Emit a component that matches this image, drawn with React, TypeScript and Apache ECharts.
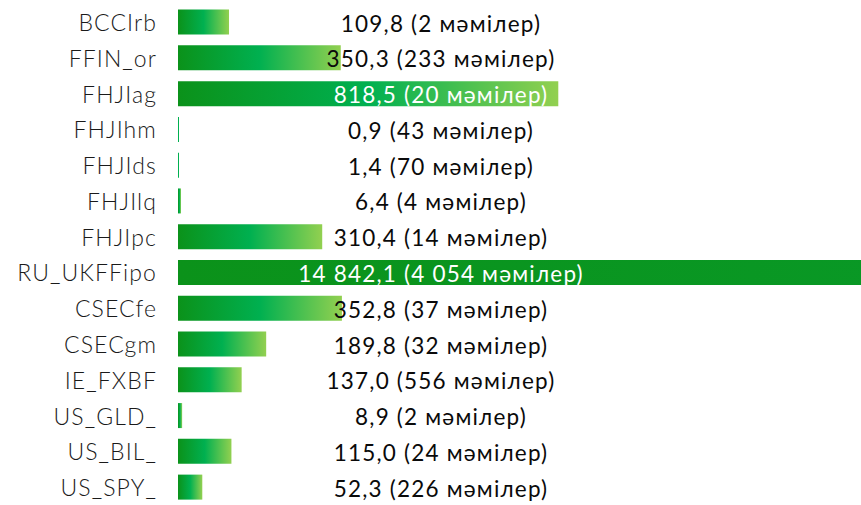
import React, { useEffect, useRef } from "react";
import * as echarts from "echarts";

const categories = [
  "BCCIrb",
  "FFIN_or",
  "FHJIag",
  "FHJIhm",
  "FHJIds",
  "FHJIlq",
  "FHJIpc",
  "RU_UKFFipo",
  "CSECfe",
  "CSECgm",
  "IE_FXBF",
  "US_GLD_",
  "US_BIL_",
  "US_SPY_",
];
const values = [109.8, 350.3, 818.5, 0.9, 1.4, 6.4, 310.4, 14842.1, 352.8, 189.8, 137.0, 8.9, 115.0, 52.3];
const deals = [2, 233, 20, 43, 70, 4, 14, 4054, 37, 32, 556, 2, 24, 226];
const dealWord = "мәмілер";

function fmt(n: number, decimals: number): string {
  const s = n.toFixed(decimals);
  const [i, d] = s.split(".");
  const ii = i.replace(/\B(?=(\d{3})+(?!\d))/g, " ");
  return d ? ii + "," + d : ii;
}

const css = `
.kzchart text[text-anchor="middle"] { letter-spacing: 1.2px; }
.kzchart text[text-anchor="end"] { letter-spacing: 1.1px; }
`;

export default function App() {
  const ref = useRef<HTMLDivElement>(null);
  useEffect(() => {
    if (!ref.current) return;
    const chart = echarts.init(ref.current, undefined, { renderer: "svg" });
    const xMax = 1470;
    const insideThreshold = 500;
    chart.setOption({
      animation: false,
      grid: { left: 178, top: 4.2, width: 683, height: 507, containLabel: false },
      xAxis: { type: "value", min: 0, max: xMax, show: false },
      yAxis: {
        type: "category",
        inverse: true,
        data: categories,
        axisLine: { show: false },
        axisTick: { show: false },
        splitLine: { show: false },
        axisLabel: {
          margin: 21,
          color: "#1a1a1a",
          fontFamily: "Lato",
          fontWeight: 300,
          fontSize: 23,
        },
      },
      series: [
        {
          type: "bar",
          clip: false,
          barWidth: 25,
          barMinHeight: 1,
          data: values.map((v) => ({
            value: v,
            label: { color: v > insideThreshold ? "#ffffff" : "#0a0a0a" },
          })),
          itemStyle: {
            color: new echarts.graphic.LinearGradient(0, 0, 1, 0, [
              { offset: 0, color: "#0b921a" },
              { offset: 0.5, color: "#00b050" },
              { offset: 1, color: "#92d050" },
            ]),
          },
          label: {
            show: true,
            position: [263, "50%"],
            offset: [0, 1],
            align: "center",
            verticalAlign: "middle",
            fontFamily: "Lato",
            fontSize: 22.5,
            formatter: (p: any) =>
              `${fmt(values[p.dataIndex], 1)} (${fmt(deals[p.dataIndex], 0)} ${dealWord})`,
          },
        },
      ],
    });
    return () => chart.dispose();
  }, []);
  return (
    <>
      <style>{css}</style>
      <div
        ref={ref}
        className="kzchart"
        style={{ position: "absolute", left: 0, top: 0, width: 861, height: 505, background: "#ffffff" }}
      />
    </>
  );
}
